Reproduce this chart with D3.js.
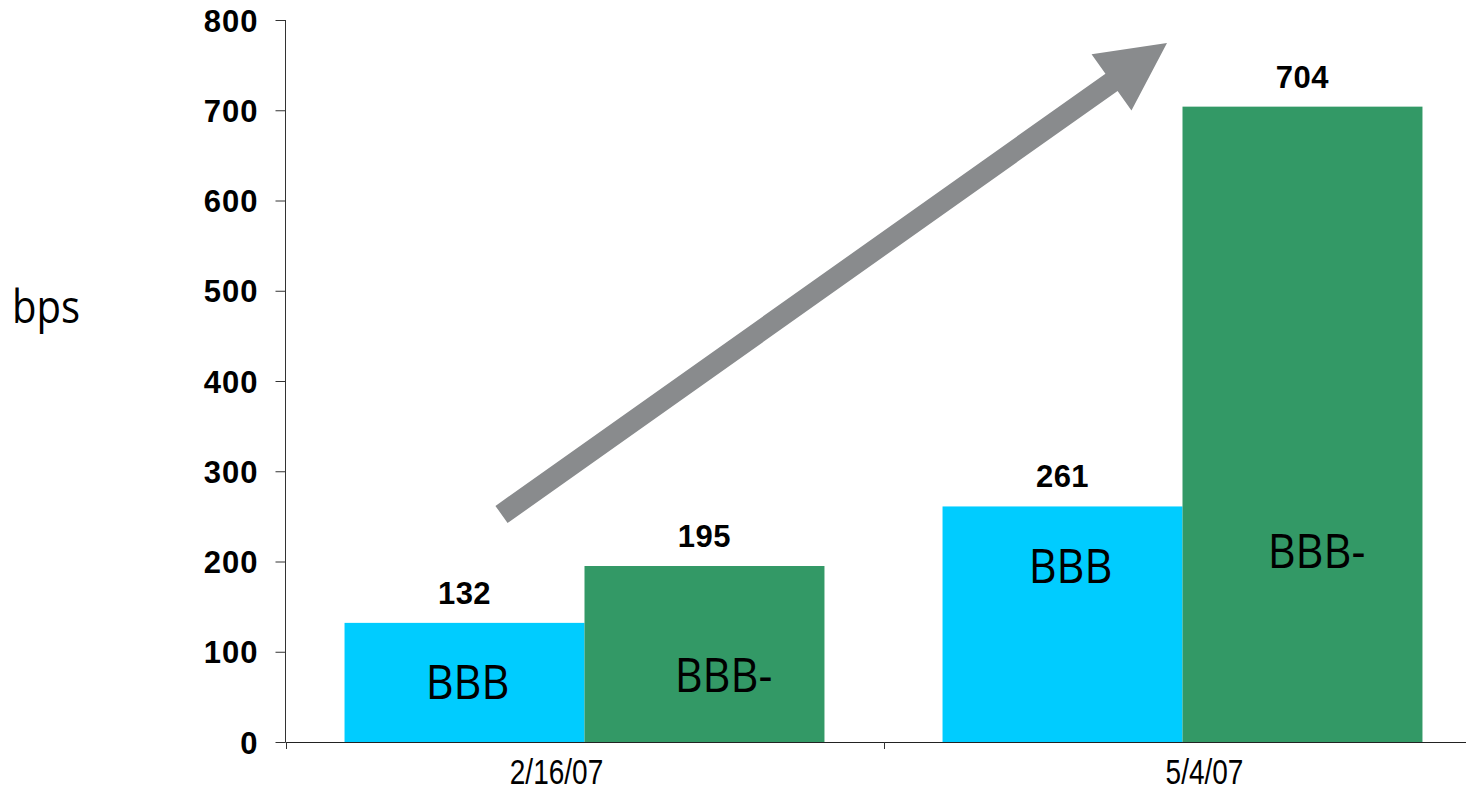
<!DOCTYPE html>
<html>
<head>
<meta charset="utf-8">
<script src="https://cdn.jsdelivr.net/npm/d3@7"></script>
<style>
  html, body { margin: 0; padding: 0; background: #fff; }
  svg { display: block; }
</style>
</head>
<body>
<svg id="chart" width="1466" height="791"></svg>
<script>
// ---- data ----
const categories = ["2/16/07", "5/4/07"];
const seriesNames = ["BBB", "BBB-"];
const bbbValues = [132, 261];
const bbbMinusValues = [195, 704];
const yTicks = [0, 100, 200, 300, 400, 500, 600, 700, 800];
const yLabel = "bps";

// ---- layout ----
const W = 1466, H = 791;
const axisX = 285.5, axisBottom = 742, axisTop = 20;
const colors = { "BBB": "#00CCFF", "BBB-": "#339966" };

const svg = d3.select("#chart");

const y = d3.scaleLinear().domain([0, 800]).range([axisBottom, axisTop]);
const x0 = d3.scaleBand().domain(categories).range([axisX, axisX + 2 * 598]).padding(0);
const x1 = d3.scaleBand().domain(seriesNames).range([0, x0.bandwidth()]).paddingInner(0).paddingOuter(0.246);

const rows = categories.map((c, i) => ({
  cat: c,
  vals: [
    { s: "BBB", v: bbbValues[i] },
    { s: "BBB-", v: bbbMinusValues[i] }
  ]
}));

// bars
const groups = svg.selectAll("g.grp").data(rows).enter().append("g")
  .attr("class", "grp")
  .attr("transform", d => `translate(${x0(d.cat)},0)`);

groups.selectAll("rect").data(d => d.vals).enter().append("rect")
  .attr("x", d => x1(d.s))
  .attr("y", d => y(d.v))
  .attr("width", x1.bandwidth())
  .attr("height", d => y(0) - y(d.v))
  .attr("fill", d => colors[d.s]);

// value labels above bars
groups.selectAll("text.val").data(d => d.vals).enter().append("text")
  .attr("class", "val")
  .attr("x", d => x1(d.s) + x1.bandwidth() / 2)
  .attr("y", d => y(d.v) - 19)
  .attr("text-anchor", "middle")
  .attr("font-family", "Liberation Sans, Arial, sans-serif")
  .attr("font-weight", "bold")
  .attr("font-size", 31)
  .attr("letter-spacing", 0.5)
  .attr("fill", "#000")
  .text(d => d.v);

// inside labels (manual text boxes in the original)
const insideLabelY = [[47.6, 55.4], [176, 193]];   // baseline position in value units
const insideLabelDx = [[3, 19], [8, 14]];
groups.each(function(d, gi) {
  d3.select(this).selectAll("text.in").data(d.vals).enter().append("text")
    .attr("class", "in")
    .attr("transform", (v, si) =>
      `translate(${x1(v.s) + x1.bandwidth() / 2 + insideLabelDx[gi][si]},${y(insideLabelY[gi][si])}) scale(0.9,1)`)
    .attr("text-anchor", "middle")
    .attr("font-family", "Open Sans, Noto Sans, sans-serif")
    .attr("font-size", 48)
    .attr("fill", "#000")
    .text(v => v.s);
});

// y axis
const yAxis = d3.axisLeft(y).tickValues(yTicks).tickSize(10).tickPadding(17);
const gy = svg.append("g").attr("transform", `translate(${axisX},0)`).call(yAxis);
gy.select(".domain").attr("stroke", "#333").attr("d", `M0,${axisTop}V${axisBottom}`);
gy.selectAll(".tick line").attr("stroke", "#333");
gy.selectAll(".tick text")
  .attr("font-family", "Liberation Sans, Arial, sans-serif")
  .attr("font-weight", "bold")
  .attr("font-size", 31)
  .attr("letter-spacing", 1)
  .attr("fill", "#000")
  .attr("dy", "0.36em");

// x axis
svg.append("line")
  .attr("x1", axisX).attr("x2", W).attr("y1", axisBottom + 0.5).attr("y2", axisBottom + 0.5)
  .attr("stroke", "#222").attr("stroke-width", 1.2);
const catBounds = [x0(categories[0]), x0(categories[1])];
svg.selectAll("line.xtick").data(catBounds).enter().append("line")
  .attr("class", "xtick")
  .attr("x1", d => Math.round(d) + 0.5).attr("x2", d => Math.round(d) + 0.5)
  .attr("y1", axisBottom).attr("y2", axisBottom + 7)
  .attr("stroke", "#333");

const catLabelDx = [-28, 22];
svg.selectAll("text.cat").data(categories).enter().append("text")
  .attr("class", "cat")
  .attr("transform", (d, i) => `translate(${x0(d) + x0.bandwidth() / 2 + catLabelDx[i]},784) scale(0.8,1)`)
  .attr("text-anchor", "middle")
  .attr("font-family", "Liberation Sans, Arial, sans-serif")
  .attr("font-size", 35)
  .attr("fill", "#000")
  .text(d => d);

// y label
svg.append("text")
  .attr("transform", "translate(12,323) scale(0.87,1)")
  .attr("font-family", "Open Sans, Noto Sans, sans-serif")
  .attr("font-size", 46)
  .attr("fill", "#000")
  .text(yLabel);

// arrow annotation
const tail = [501.5, 514.5], tip = [1167, 43];
const dx = tip[0] - tail[0], dy = tip[1] - tail[1];
const len = Math.hypot(dx, dy);
const u = [dx / len, dy / len], n = [-u[1], u[0]];
const sw = 10.5, hw = 34.5, hl = 68;
const base = [tip[0] - hl * u[0], tip[1] - hl * u[1]];
const P = (p, a) => [p[0] + a * n[0], p[1] + a * n[1]];
const pts = [
  P(tail, -sw), P(base, -sw), P(base, -hw), tip, P(base, hw), P(base, sw), P(tail, sw)
];
svg.append("polygon")
  .attr("points", pts.map(p => p.join(",")).join(" "))
  .attr("fill", "#898B8D");
</script>
</body>
</html>
